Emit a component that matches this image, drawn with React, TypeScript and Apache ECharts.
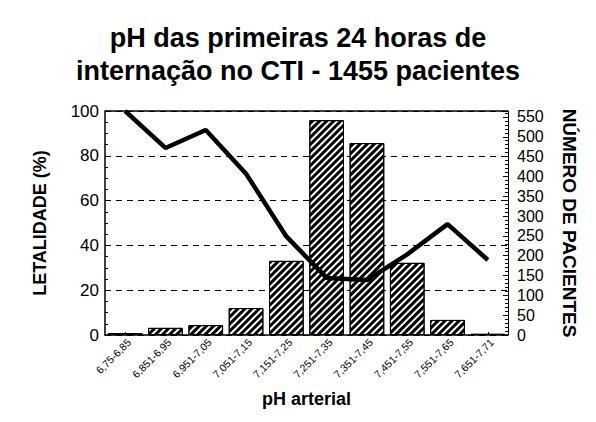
import React, { useEffect, useRef } from "react";
import * as echarts from "echarts";

const categories = [
  "6,75-6,85",
  "6,851-6,95",
  "6,951-7,05",
  "7,051-7,15",
  "7,151-7,25",
  "7,251-7,35",
  "7,351-7,45",
  "7,451-7,55",
  "7,551-7,65",
  "7,651-7,71",
];
const patients = [5, 18, 25, 68, 187, 542, 484, 182, 38, 3];
const lethality = [100, 83.5, 91.5, 72, 44, 25.5, 24.5, 36, 49.5, 33.5];

const FONT = "'Liberation Sans', Arial, sans-serif";

export default function App() {
  const ref = useRef<HTMLDivElement>(null);
  useEffect(() => {
    if (!ref.current) return;
    const chart = echarts.init(ref.current, null, { renderer: "svg" });
    chart.setOption({
      animation: false,
      backgroundColor: "#ffffff",
      textStyle: { fontFamily: FONT, color: "#000" },
      title: {
        text: "pH das primeiras 24 horas de\ninternação no CTI - 1455 pacientes",
        left: "center",
        top: 16,
        textStyle: {
          fontFamily: FONT,
          fontSize: 27,
          fontWeight: "bold",
          color: "#000",
          lineHeight: 33,
        },
      },
      grid: { left: 105, right: 88, top: 111, bottom: 87 },
      xAxis: {
        type: "category",
        data: categories,
        name: "pH arterial",
        nameLocation: "middle",
        nameGap: 55,
        nameTextStyle: { fontFamily: FONT, fontSize: 18, fontWeight: "bold", color: "#000" },
        axisLine: { lineStyle: { color: "#000", width: 1.5 } },
        axisTick: { show: true, inside: true, alignWithLabel: true, length: 3, lineStyle: { color: "#000" } },
        axisLabel: {
          rotate: 45,
          fontSize: 10.5,
          fontFamily: FONT,
          color: "#000",
          margin: 10,
          interval: 0,
          padding: [10, -6, 0, 0],
        },
      },
      yAxis: [
        {
          type: "value",
          min: 0,
          max: 100,
          interval: 20,
          name: "LETALIDADE (%)",
          nameLocation: "middle",
          nameGap: 56,
          nameRotate: 90,
          nameTextStyle: { fontFamily: FONT, fontSize: 18, fontWeight: "bold", color: "#000" },
          axisLine: { show: true, lineStyle: { color: "#000", width: 1.5 } },
          axisTick: { show: true, inside: true, length: 5, lineStyle: { color: "#000" } },
          minorTick: { show: true, splitNumber: 4, length: 3, lineStyle: { color: "#000" } },
          axisLabel: { fontSize: 17, fontFamily: FONT, color: "#000", margin: 6 },
          splitLine: {
            show: true,
            lineStyle: { color: "#000", type: [6, 5], width: 1 },
          },
        },
        {
          type: "value",
          min: 0,
          max: 565,
          interval: 50,
          position: "right",
          name: "NÚMERO DE PACIENTES",
          nameLocation: "middle",
          nameGap: 52,
          nameRotate: -90,
          nameTextStyle: { fontFamily: FONT, fontSize: 19, fontWeight: "bold", color: "#000" },
          axisLine: { show: true, lineStyle: { color: "#000", width: 1 } },
          axisTick: { show: true, inside: true, length: 5, lineStyle: { color: "#000" } },
          minorTick: { show: true, splitNumber: 5, length: 3, lineStyle: { color: "#000" } },
          axisLabel: { fontSize: 16, fontFamily: FONT, color: "#000", margin: 9, showMaxLabel: false },
          splitLine: { show: false },
        },
      ],
      graphic: [
        {
          type: "line",
          shape: { x1: 105, y1: 111, x2: 508, y2: 111 },
          style: { stroke: "#000", lineWidth: 1.5 },
          z: 10,
        },
      ],
      series: [
        {
          type: "bar",
          yAxisIndex: 1,
          data: patients,
          barCategoryGap: "14%",
          itemStyle: {
            color: "#ffffff",
            borderColor: "#000",
            borderWidth: 1,
            decal: {
              symbol: "rect",
              symbolSize: 1,
              color: "#000",
              backgroundColor: "#fff",
              dashArrayX: [[1, 0]],
              dashArrayY: [2.5, 1.2],
              rotation: -Math.PI / 4,
            },
          },
        },
        {
          type: "line",
          yAxisIndex: 0,
          data: lethality,
          showSymbol: false,
          symbol: "none",
          lineStyle: { color: "#000", width: 4.5 },
          z: 5,
        },
      ],
    });
    return () => chart.dispose();
  }, []);
  return <div ref={ref} style={{ width: 596, height: 422, margin: -8 }} />;
}
